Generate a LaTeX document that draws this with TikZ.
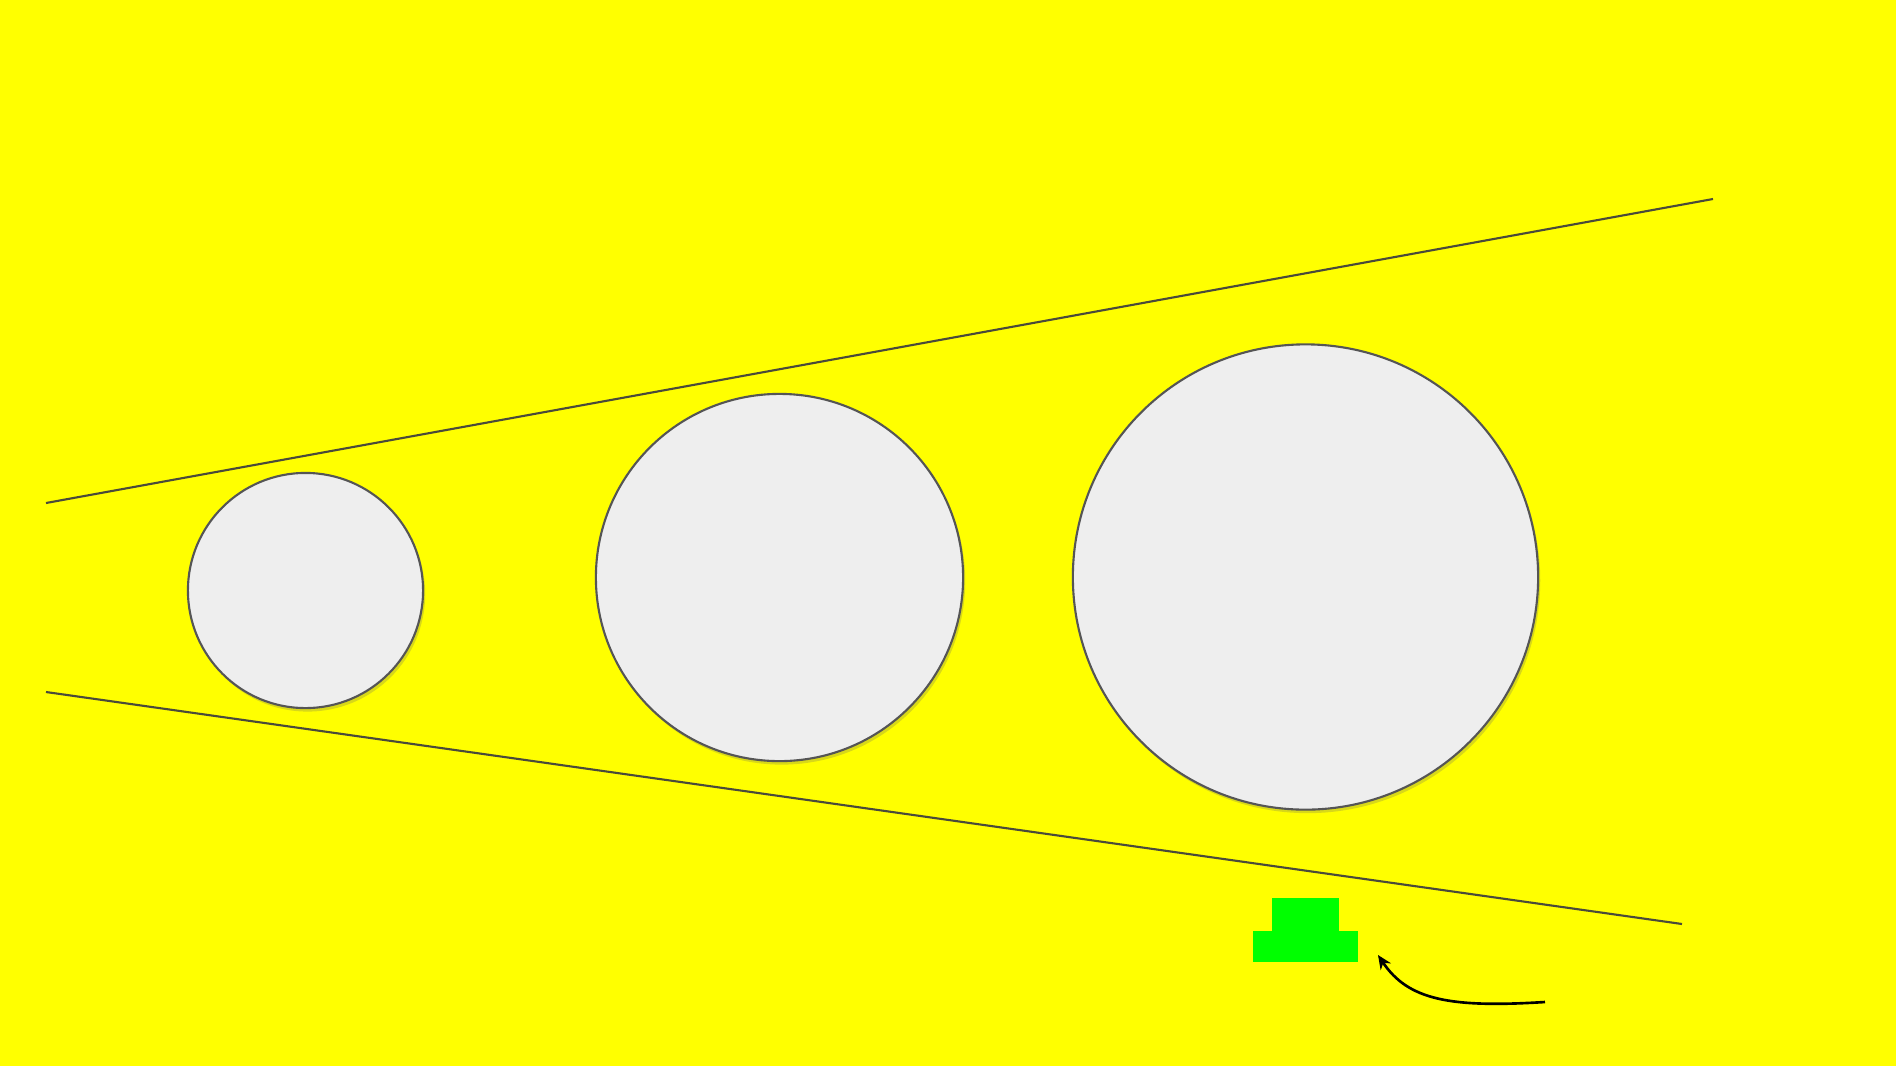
\documentclass[tikz,border=0pt]{standalone}
\usetikzlibrary{shadows,arrows.meta}

\definecolor{bgyellow}{HTML}{FFFF00}
\definecolor{discgray}{HTML}{EEEEEE}
\definecolor{rimgray}{HTML}{555555}
\definecolor{linegray}{HTML}{4A4A3A}
\definecolor{blockgreen}{HTML}{00FF00}

\begin{document}
\begin{tikzpicture}[
        x=0.01cm, y=-0.01cm,
        disc/.style={circle, draw=rimgray, line width=0.6pt, fill=discgray, inner sep=0pt,
            drop shadow={shadow xshift=0.6pt, shadow yshift=-1pt, opacity=0.25, fill=black!60}},
        block/.style={rectangle, fill=blockgreen, draw=none, inner sep=0pt},
        rail/.style={draw=linegray, line width=0.6pt},
        pointer/.style={draw=black, line width=0.75pt, -{Stealth[length=4pt, width=3.5pt]}}
    ]
        % Background
        \fill[bgyellow] (0,0) rectangle (1896,1066);
        \useasboundingbox (0,0) rectangle (1896,1066);

        % Rails
        \coordinate (upleft) at (46,503);
        \coordinate (upright) at (1713,199);
        \coordinate (lowleft) at (46,692);
        \coordinate (lowright) at (1682,924);
        \draw[rail] (upleft) -- (upright);
        \draw[rail] (lowleft) -- (lowright);

        % Discs
        \node[disc, minimum size=2.35cm] (small) at (305.5,590.5) {};
        \node[disc, minimum size=3.67cm] (medium) at (779.5,577.5) {};
        \node[disc, minimum size=4.65cm] (large) at (1305.5,577) {};

        % Green block
        \node[block, minimum width=1.05cm, minimum height=0.31cm] (base) at (1305.5,946.5) {};
        \node[block, minimum width=0.67cm, minimum height=0.34cm, anchor=south] (top) at ([yshift=-0.8pt]base.north) {};

        % Arrow
        \coordinate (tail) at (1545,1002);
        \coordinate (tip) at (1378,955);
        \draw[pointer] (tail) .. controls (1450,1008) and (1408,1000) .. (tip);
\end{tikzpicture}
\end{document}
